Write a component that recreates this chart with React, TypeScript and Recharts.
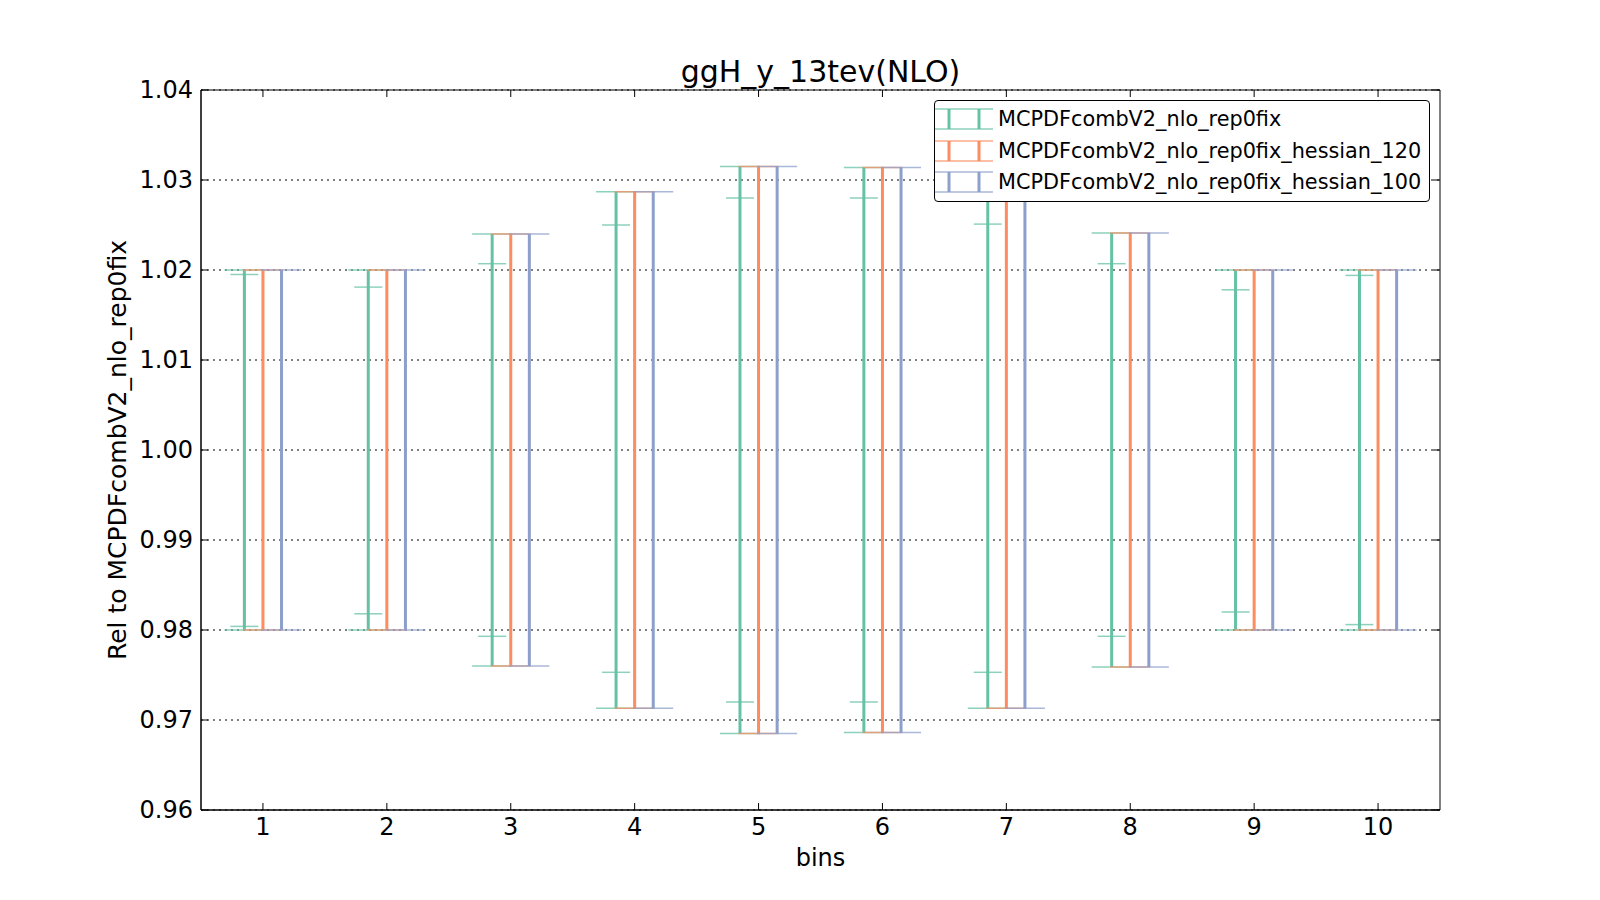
import React from "react";
import { CartesianGrid, ErrorBar, ReferenceArea, Scatter, ScatterChart, XAxis, YAxis } from "recharts";

const bins = [1, 2, 3, 4, 5, 6, 7, 8, 9, 10];
const yTicks = [0.96, 0.97, 0.98, 0.99, 1.0, 1.01, 1.02, 1.03, 1.04];

// MCPDFcombV2_nlo_rep0fix: outer band and inner (replica) band
const greenHigh = [1.02, 1.02, 1.024, 1.0287, 1.0315, 1.0314, 1.0287, 1.0241, 1.02, 1.02];
const greenLow = [0.98, 0.98, 0.976, 0.9713, 0.9685, 0.9686, 0.9713, 0.9759, 0.98, 0.98];
const greenInnerHigh = [1.0195, 1.0181, 1.0207, 1.025, 1.028, 1.028, 1.0251, 1.0207, 1.0178, 1.0194];
const greenInnerLow = [0.9804, 0.9818, 0.9793, 0.9753, 0.972, 0.972, 0.9753, 0.9793, 0.982, 0.9806];

const orangeHigh = [1.02, 1.02, 1.024, 1.0287, 1.0315, 1.0314, 1.0287, 1.0241, 1.02, 1.02];
const orangeLow = [0.98, 0.98, 0.976, 0.9713, 0.9685, 0.9686, 0.9713, 0.9759, 0.98, 0.98];

const blueHigh = [1.02, 1.02, 1.024, 1.0287, 1.0315, 1.0314, 1.0287, 1.0241, 1.02, 1.02];
const blueLow = [0.98, 0.98, 0.976, 0.9713, 0.9685, 0.9686, 0.9713, 0.9759, 0.98, 0.98];

const GREEN = "#66c2a5";
const ORANGE = "#fc8d62";
const BLUE = "#8da0cb";
const FONT = "'DejaVu Sans', sans-serif";

function build(shift: number, high: number[], low: number[], innerHigh?: number[], innerLow?: number[]) {
  return bins.map((b, i) => {
    const mid = (high[i] + low[i]) / 2;
    return {
      x: b + shift,
      y: mid,
      err: [mid - low[i], high[i] - mid],
      inner: innerHigh && innerLow ? [mid - innerLow[i], innerHigh[i] - mid] : [0, 0],
    };
  });
}

const greenData = build(-0.15, greenHigh, greenLow, greenInnerHigh, greenInnerLow);
const orangeData = build(0, orangeHigh, orangeLow);
const blueData = build(0.15, blueHigh, blueLow);

const legendItems = [
  { name: "MCPDFcombV2_nlo_rep0fix", color: GREEN },
  { name: "MCPDFcombV2_nlo_rep0fix_hessian_120", color: ORANGE },
  { name: "MCPDFcombV2_nlo_rep0fix_hessian_100", color: BLUE },
];

const BottomTick = ({ x, y, payload }: any) => (
  <g>
    <line x1={x} x2={x} y1={y} y2={y - 7} stroke="#000" />
    <line x1={x} x2={x} y1={90} y2={97} stroke="#000" />
    <text x={x} y={y + 25} textAnchor="middle" fontSize={24} fill="#000" fontFamily={FONT}>
      {payload.value}
    </text>
  </g>
);
const LeftTick = ({ x, y, payload }: any) => (
  <g>
    <line x1={x} x2={x + 7} y1={y} y2={y} stroke="#000" />
    <line x1={1440} x2={1433} y1={y} y2={y} stroke="#000" />
    <text x={x - 8} y={y + 8} textAnchor="end" fontSize={24} fill="#000" fontFamily={FONT}>
      {Number(payload.value).toFixed(2)}
    </text>
  </g>
);

const noDot = () => <g />;

function Bars({ color, inner }: { color: string; inner?: boolean }) {
  return [
    <ErrorBar key="l" dataKey="err" direction="y" width={0} stroke={color} strokeWidth={3} />,
    <ErrorBar key="c" dataKey="err" direction="y" width={20} stroke={color} strokeWidth={1.5} strokeOpacity={0.75} />,
    inner ? (
      <ErrorBar key="i" dataKey="inner" direction="y" width={14} stroke={color} strokeWidth={1.5} strokeOpacity={0.75} />
    ) : null,
  ];
}

export default function App() {
  return (
    <div style={{ position: "relative", width: 1600, height: 900, background: "#fff", fontFamily: FONT }}>
      <style>{`body{margin:0}`}</style>
      <div
        style={{
          position: "absolute",
          left: 0,
          width: 1641,
          top: 54,
          textAlign: "center",
          fontSize: 30,
          lineHeight: "36px",
          color: "#000",
        }}
      >
        ggH_y_13tev(NLO)
      </div>
      <ScatterChart width={1600} height={900} margin={{ top: 90, right: 160, bottom: 50, left: 121 }}>
        <CartesianGrid xAxisId="b" yAxisId="l" vertical={false} stroke="#000" strokeDasharray="2 4" />
        <XAxis
          xAxisId="b"
          type="number"
          dataKey="x"
          domain={[0.5, 10.5]}
          ticks={bins}
          interval={0}
          height={40}
          tickSize={0}
          tickMargin={0}
          tickLine={false}
          tick={<BottomTick />}
          axisLine={{ stroke: "#000" }}
          allowDataOverflow
          label={{ value: "bins", position: "bottom", offset: -1, fontSize: 24, fill: "#000", fontFamily: FONT }}
        />
        <YAxis
          yAxisId="l"
          type="number"
          domain={[0.96, 1.04]}
          ticks={yTicks}
          interval={0}
          width={80}
          tickSize={0}
          tickMargin={0}
          tickLine={false}
          tick={<LeftTick />}
          axisLine={{ stroke: "#000" }}
          allowDataOverflow
          label={{
            value: "Rel to MCPDFcombV2_nlo_rep0fix",
            angle: -90,
            position: "insideLeft",
            offset: -4,
            fontSize: 25,
            fill: "#000",
            fontFamily: FONT,
            style: { textAnchor: "middle" },
          }}
        />
        <ReferenceArea
          xAxisId="b"
          yAxisId="l"
          x1={0.5}
          x2={10.5}
          y1={0.96}
          y2={1.04}
          fill="none"
          fillOpacity={0}
          stroke="#000"
          strokeOpacity={1}
          ifOverflow="visible"
        />
        <Scatter xAxisId="b" yAxisId="l" data={greenData} dataKey="y" shape={noDot} isAnimationActive={false}>
          {Bars({ color: GREEN, inner: true })}
        </Scatter>
        <Scatter xAxisId="b" yAxisId="l" data={orangeData} dataKey="y" shape={noDot} isAnimationActive={false}>
          {Bars({ color: ORANGE })}
        </Scatter>
        <Scatter xAxisId="b" yAxisId="l" data={blueData} dataKey="y" shape={noDot} isAnimationActive={false}>
          {Bars({ color: BLUE })}
        </Scatter>
      </ScatterChart>
      <div
        style={{
          position: "absolute",
          left: 934,
          top: 100,
          width: 494,
          height: 100,
          border: "1px solid #000",
          borderRadius: 4,
          background: "#fff",
          boxSizing: "content-box",
        }}
      >
        {legendItems.map((it, i) => (
          <div key={it.name} style={{ position: "absolute", left: 0, top: 7 + i * 31.5, height: 22, width: 494 }}>
            <svg width={58} height={22} style={{ position: "absolute", left: 0, top: 0 }}>
              <line x1={0} x2={58} y1={1} y2={1} stroke={it.color} strokeWidth={1.5} strokeOpacity={0.75} />
              <line x1={0} x2={58} y1={21} y2={21} stroke={it.color} strokeWidth={1.5} strokeOpacity={0.75} />
              <line x1={14} x2={14} y1={1} y2={21} stroke={it.color} strokeWidth={3} />
              <line x1={44} x2={44} y1={1} y2={21} stroke={it.color} strokeWidth={3} />
            </svg>
            <div
              style={{
                position: "absolute",
                left: 63,
                top: -1,
                fontSize: 20.8,
                lineHeight: "24px",
                color: "#000",
                whiteSpace: "nowrap",
              }}
            >
              {it.name}
            </div>
          </div>
        ))}
      </div>
    </div>
  );
}
